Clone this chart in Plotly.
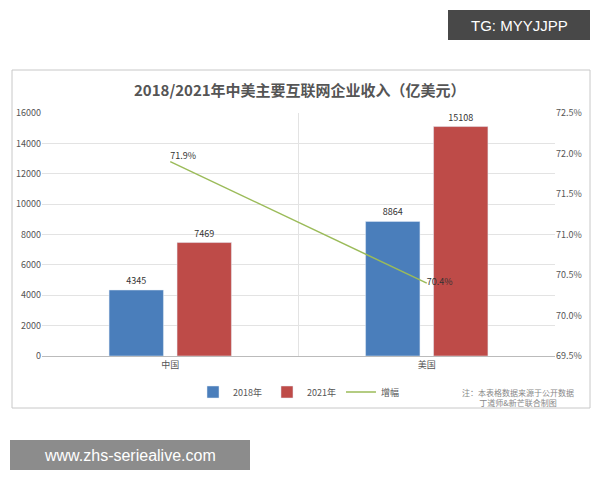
import plotly.graph_objects as go

categories = ["中国", "美国"]
rev_2018 = [4345, 8864]
rev_2021 = [7469, 15108]
growth = [71.9, 70.4]
growth_labels = ["71.9%", "70.4%"]

O = 8  # page offset
W, H = 592, 472
L, R, T, B = 42 - O, 45, 113 - O, 124
F = "Noto Sans CJK SC"

fig = go.Figure()
fig.add_bar(x=categories, y=rev_2018, name="2018年", marker_color="#4a7ebb",
            text=[str(v) for v in rev_2018], textposition="outside",
            textfont=dict(size=9, color="#333"), cliponaxis=False)
fig.add_bar(x=categories, y=rev_2021, name="2021年", marker_color="#be4b48",
            text=[str(v) for v in rev_2021], textposition="outside",
            textfont=dict(size=9, color="#333"), cliponaxis=False)
fig.add_scatter(x=categories, y=growth, name="增幅", yaxis="y2", mode="lines+text",
                line=dict(color="#9bbb59", width=1.5),
                text=growth_labels, textposition=["top right", "middle right"],
                textfont=dict(size=9, color="#333"), cliponaxis=False)

def px(x): return (x - O - L) / (W - L - R)
def py(y): return (H - B - (y - O)) / (H - T - B)

fig.update_layout(
    width=W, height=H, margin=dict(l=L, r=R, t=T, b=B, autoexpand=False),
    paper_bgcolor="white", plot_bgcolor="white",
    font=dict(family=F, size=9, color="#555"),
    barmode="group", bargap=0.47, bargroupgap=0.2,
    showlegend=True,
    legend=dict(orientation="h", x=0.5, xanchor="center", y=py(392), yanchor="middle",
                font=dict(size=9, color="#555")),
    xaxis=dict(showline=True, linecolor="#bbb", ticks="", tickfont=dict(size=9), automargin=False),
    yaxis=dict(range=[0, 16000], dtick=2000, tickformat="d", gridcolor="#e3e3e3", zeroline=False,
               tickfont=dict(size=9), automargin=False),
    yaxis2=dict(range=[69.5, 72.5], dtick=0.5, overlaying="y", side="right", automargin=False,
                showgrid=False, tickformat=".1f", ticksuffix="%", tickfont=dict(size=9)),
    shapes=[
        dict(type="rect", xref="paper", yref="paper", x0=px(12), x1=px(590), y0=py(70), y1=py(408),
             line=dict(color="#c8c8c8", width=1), layer="below"),
        dict(type="line", xref="paper", yref="paper", x0=0.5, x1=0.5, y0=0, y1=1,
             line=dict(color="#e3e3e3", width=1), layer="below"),
        dict(type="rect", xref="paper", yref="paper", x0=px(448), x1=px(590), y0=py(10), y1=py(40),
             fillcolor="rgba(40,40,40,0.85)", line=dict(width=0)),
        dict(type="rect", xref="paper", yref="paper", x0=px(10), x1=px(250), y0=py(440), y1=py(470),
             fillcolor="rgba(120,120,120,0.85)", line=dict(width=0)),
    ],
    annotations=[
        dict(text="<b>2018/2021年中美主要互联网企业收入（亿美元）</b>", xref="paper", yref="paper",
             x=px(300), y=py(89), xanchor="center", yanchor="middle", showarrow=False,
             font=dict(size=15, color="#555", family="Noto Sans CJK SC")),
        dict(text="注：本表格数据来源于公开数据<br>丁道师&新芒联合制图", xref="paper", yref="paper",
             x=px(576), y=py(398), xanchor="right", yanchor="middle", showarrow=False, align="center",
             font=dict(size=8, color="#888")),
        dict(text="TG: MYYJJPP", xref="paper", yref="paper", x=px(519), y=py(25),
             xanchor="center", yanchor="middle", showarrow=False,
             font=dict(size=15, color="white", family="Liberation Sans")),
        dict(text="www.zhs-seriealive.com", xref="paper", yref="paper", x=px(130), y=py(455),
             xanchor="center", yanchor="middle", showarrow=False,
             font=dict(size=16, color="white", family="Liberation Sans")),
    ],
)
fig.write_html("out.html")
